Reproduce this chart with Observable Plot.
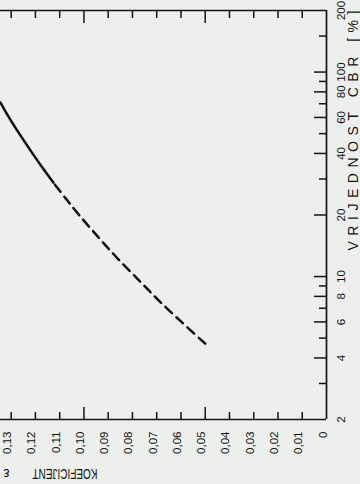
<!DOCTYPE html>
<html>
<head>
<meta charset="utf-8">
<script src="https://cdn.jsdelivr.net/npm/d3@7"></script>
<script src="https://cdn.jsdelivr.net/npm/@observablehq/plot@0.6"></script>
<style>
  html, body { margin: 0; padding: 0; background: #edefec; overflow: hidden; }
  #chart svg { display: block; }
</style>
</head>
<body>
<div id="chart"></div>
<script>
// Coefficient (ε) axis ticks and labels
const coefLongTicks = [0.05, 0.10];
const coefShortTicks = [0.01, 0.02, 0.03, 0.04, 0.06, 0.07, 0.08, 0.09, 0.11, 0.12, 0.13];
const coefLabels = [0, 0.01, 0.02, 0.03, 0.04, 0.05, 0.06, 0.07, 0.08, 0.09, 0.10, 0.11, 0.12, 0.13];

// CBR axis ticks and labels (log)
const cbrLongTicks = [4, 6, 8, 10, 20, 40, 60, 80, 100];
const cbrShortTicks = [3, 5, 7, 9, 30, 50, 70, 90, 150];
const cbrLabels = [2, 4, 6, 8, 10, 20, 40, 60, 80, 100, 200];

// Curve: dashed part (read values, CBR % -> coefficient)
const dashedCBR  = [4.7, 6, 7.6, 9.4, 12, 15.5, 20, 24, 28.8];
const dashedCoef = [0.0500, 0.0598, 0.0690, 0.0766, 0.0854, 0.0939, 0.1020, 0.1074, 0.1126];
// Curve: solid part (read values)
const solidCBR  = [28.8, 35, 42, 52, 62, 71];
const solidCoef = [0.1126, 0.1178, 0.1224, 0.1276, 0.1316, 0.1344];

const xTitle = "VRIJEDNOST CBR [%]";
const yTitle = "KOEFICIJENT";
const ySymbol = "ε";

const solid = solidCBR.map((v, i) => ({cbr: v, c: solidCoef[i]}));
const dashed = dashedCBR.map((v, i) => ({cbr: v, c: dashedCoef[i]}));

const W = 360, H = 484;
const mL = 0, mR = 34, mT = 10, mB = 65;
const fw = W - mL - mR, fh = H - mT - mB;
const ink = "#141414";
const fmt = d => d === 0 ? "0" : d.toFixed(2).replace(".", ",");

const chart = Plot.plot({
  width: W, height: H,
  marginLeft: mL, marginRight: mR, marginTop: mT, marginBottom: mB,
  x: {domain: [0, 0.1344], reverse: true, axis: null},
  y: {type: "log", domain: [2, 200], axis: null},
  style: {background: "#edefec", fontFamily: "'Liberation Sans', Arial, Helvetica, sans-serif", color: ink},
  marks: [
    // frame lines
    Plot.ruleX([0], {stroke: ink, strokeWidth: 1.7}),
    Plot.ruleY([2, 200], {stroke: ink, strokeWidth: 1.7}),
    // bottom ticks (pointing up)
    Plot.tickX(coefShortTicks, {x: d => d, insetTop: fh - 7, stroke: ink, strokeWidth: 1.5}),
    Plot.tickX(coefLongTicks, {x: d => d, insetTop: fh - 12, stroke: ink, strokeWidth: 1.5}),
    // top ticks (pointing down)
    Plot.tickX(coefShortTicks, {x: d => d, insetBottom: fh - 8, stroke: ink, strokeWidth: 1.5}),
    Plot.tickX(coefLongTicks, {x: d => d, insetBottom: fh - 13, stroke: ink, strokeWidth: 1.5}),
    // right (CBR) ticks pointing left
    Plot.tickY(cbrShortTicks, {y: d => d, insetLeft: fw - 7, stroke: ink, strokeWidth: 1.5}),
    Plot.tickY(cbrLongTicks, {y: d => d, insetLeft: fw - 12, stroke: ink, strokeWidth: 1.5}),
    // tick labels
    Plot.text(coefLabels, {x: d => d, text: fmt, frameAnchor: "bottom", rotate: -90, textAnchor: "end", dy: 12, fontSize: 11.5, fill: ink}),
    Plot.text(cbrLabels, {y: d => d, text: d => String(d), frameAnchor: "right", rotate: -90, textAnchor: "middle", dx: 15, fontSize: 11.5, fill: ink}),
    // curve
    Plot.line(dashed, {x: "c", y: "cbr", stroke: "#111", strokeWidth: 2.5, strokeDasharray: "9,6", curve: "catmull-rom"}),
    Plot.line(solid, {x: "c", y: "cbr", stroke: "#111", strokeWidth: 2.5, curve: "catmull-rom"}),
    // titles
    Plot.text([xTitle], {text: d => d, frameAnchor: "top-right", dx: 22, dy: 240, rotate: -90, textAnchor: "start", lineAnchor: "top", fontSize: 14, fill: ink}),
    Plot.text([yTitle], {text: d => d, frameAnchor: "bottom-left", dx: 97, dy: 59, rotate: 180, textAnchor: "start", lineAnchor: "top", fontSize: 14, fill: ink}),
    Plot.text([ySymbol], {text: d => d, frameAnchor: "bottom-left", dx: 9, dy: 59, rotate: 180, textAnchor: "start", lineAnchor: "top", fontSize: 14, fill: ink})
  ]
});

document.getElementById("chart").appendChild(chart);

d3.select(chart).selectAll("text").each(function() {
  const t = this.textContent;
  if (t === xTitle) d3.select(this).attr("textLength", 240).attr("lengthAdjust", "spacing");
  if (t === yTitle) d3.select(this).attr("textLength", 65).attr("lengthAdjust", "spacingAndGlyphs");
});
</script>
</body>
</html>
